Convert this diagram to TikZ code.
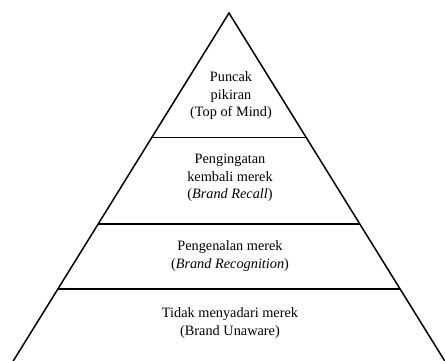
\documentclass[tikz,border=0pt]{standalone}
\usepackage{fontspec}
\setmainfont{Liberation Serif}
\begin{document}
\begin{tikzpicture}[x=1pt,y=-1pt,
  edge/.style={line width=1.5pt,black},
  lvl/.style={align=center,font=\fontsize{14.3}{17.5}\selectfont,inner sep=0pt}]
\useasboundingbox (0,0) rectangle (445,361);
\clip (0,0) rectangle (445,361);
\coordinate (apex) at (229,13);
\coordinate (bl) at (12,363);
\coordinate (br) at (446,363);
\draw[edge,line join=miter] (bl) -- (apex) -- (br);
\coordinate (l1) at (151.5,137.5); \coordinate (r1) at (306,137.5);
\coordinate (l2) at (98,224); \coordinate (r2) at (359.5,224);
\coordinate (l3) at (57.5,289); \coordinate (r3) at (400,289);
\draw[edge] (l1) -- (r1);
\draw[edge] (l2) -- (r2);
\draw[edge] (l3) -- (r3);
\node[lvl] (t1) at (231,96) {Puncak\\pikiran\\(Top of Mind)};
\node[lvl] (t2) at (230,178) {Pengingatan\\kembali merek\\(\textit{Brand Recall})};
\node[lvl] (t3) at (230,256) {Pengenalan merek\\(\textit{Brand Recognition})};
\node[lvl] (t4) at (230,323) {Tidak menyadari merek\\(Brand Unaware)};
\end{tikzpicture}
\end{document}
